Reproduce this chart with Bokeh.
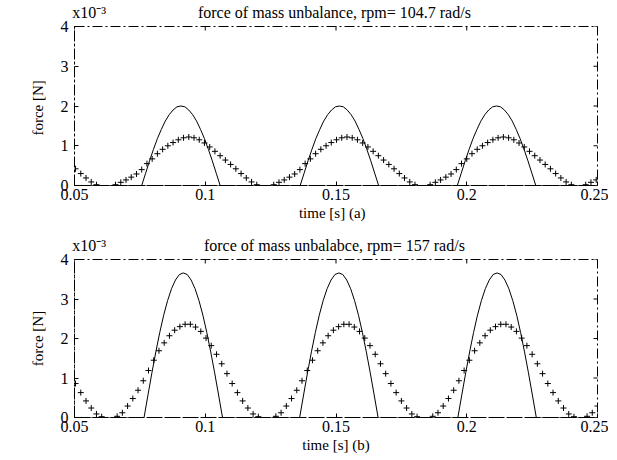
import math
from bokeh.plotting import figure
from bokeh.layouts import column
from bokeh.models import Range1d, FixedTicker, LinearAxis
from bokeh.embed import file_html
from bokeh.resources import INLINE

FONT = "Liberation Serif"

# ---- axis ticks / labels ----
x_ticks = [0.05, 0.1, 0.15, 0.2, 0.25]
x_tick_labels = ["0.05", "0.1", "0.15", "0.2", "0.25"]
y_ticks = [0, 1, 2, 3, 4]          # in units of 1e-3 N
y_tick_labels = ["0", "1", "2", "3", "4"]
y_scale_label = "x10\u207b\u00b3"

titles = ["force of mass unbalance, rpm= 104.7 rad/s",
          "force of mass unbalabce, rpm= 157 rad/s"]
x_labels = ["time  [s]  (a)", "time [s] (b)"]
y_labels = ["force  [N]", "force [N]"]

# ---- solid curve: one cap per pulse (offset from pulse centre, value x1e-3) ----
cap_offsets = [-0.015, -0.0135, -0.012, -0.0105, -0.009, -0.0075, -0.006, -0.0045,
               -0.003, -0.0015, 0.0, 0.0015, 0.003, 0.0045, 0.006, 0.0075, 0.009,
               0.0105, 0.012, 0.0135, 0.015]
cap_top = [0.0, 0.31, 0.62, 0.91, 1.18, 1.41, 1.62, 1.78, 1.90, 1.98, 2.0,
           1.98, 1.90, 1.78, 1.62, 1.41, 1.18, 0.91, 0.62, 0.31, 0.0]
cap_bottom = [0.0, 0.57, 1.13, 1.66, 2.15, 2.59, 2.96, 3.26, 3.48, 3.62, 3.66,
              3.62, 3.48, 3.26, 2.96, 2.59, 2.15, 1.66, 1.13, 0.57, 0.0]
cap_centres_top = [0.0907, 0.1513, 0.2114]
cap_centres_bottom = [0.0916, 0.1511, 0.2116]

# ---- '+' series: one pulse profile (value x1e-3 every 2 ms) and pulse starts ----
marker_step = 0.002
marker_top = [0.02, 0.08, 0.14, 0.21, 0.29, 0.40, 0.55, 0.67, 0.80, 0.91, 1.00, 1.08,
              1.15, 1.20, 1.22, 1.20, 1.15, 1.07, 0.97, 0.86, 0.75, 0.64, 0.53, 0.42,
              0.30, 0.19, 0.09, 0.02]
marker_bottom = [0.03, 0.12, 0.29, 0.48, 0.69, 0.93, 1.19, 1.45, 1.69, 1.89, 2.07, 2.21,
                 2.30, 2.36, 2.36, 2.29, 2.18, 2.01, 1.82, 1.60, 1.36, 1.11, 0.86, 0.63,
                 0.42, 0.24, 0.09, 0.02]
marker_starts_top = [0.0044, 0.0657, 0.1262, 0.1860, 0.2455]
marker_starts_bottom = [0.0064, 0.0663, 0.1270, 0.1870, 0.2460]

X0, X1 = 0.05, 0.25
Y0, Y1 = 0, 4
TITLE_X = 0.1494       # horizontal centre of the heading (data units)
SCALE_X = 0.0556       # horizontal centre of the "x10^-3" note


def solid_series(centres, cap):
    xs, ys = [X0], [0.0]
    for c in centres:
        for o, v in zip(cap_offsets, cap):
            xs.append(c + o)
            ys.append(v)
    xs.append(X1)
    ys.append(0.0)
    return xs, ys


def marker_series(starts, profile):
    xs, ys = [], []
    for s in starts:
        for k, v in enumerate(profile):
            t = s + k * marker_step
            if X0 - 0.0005 <= t <= X1 + 0.0005:
                xs.append(t)
                ys.append(v)
    return xs, ys


DASH = "10 3 2 3"


def make_fig(idx, height, b_top, b_bottom, centres, cap, starts, profile):
    p = figure(width=608, height=height, output_backend="svg", toolbar_location=None,
               x_range=Range1d(X0, X1), y_range=Range1d(Y0, Y1),
               min_border_left=74, min_border_right=11,
               min_border_top=b_top, min_border_bottom=b_bottom)
    p.background_fill_color = "white"
    p.border_fill_color = "white"
    p.xgrid.visible = False
    p.ygrid.visible = False
    p.outline_line_color = "black"
    p.outline_line_width = 1
    p.outline_line_dash = DASH

    for ax in (p.xaxis[0], p.yaxis[0]):
        ax.axis_line_color = "black"
        ax.axis_line_dash = DASH
        ax.major_tick_in = 4
        ax.major_tick_out = 0
        ax.minor_tick_line_color = None
        ax.major_label_text_font = FONT
        ax.major_label_text_font_size = "16px"
        ax.major_label_text_color = "black"
        ax.axis_label_text_font = FONT
        ax.axis_label_text_font_size = "15px"
        ax.axis_label_text_font_style = "normal"
        ax.axis_label_text_color = "black"

    p.xaxis[0].ticker = FixedTicker(ticks=x_ticks)
    p.xaxis[0].major_label_overrides = {t: l for t, l in zip(x_ticks, x_tick_labels)}
    p.xaxis[0].major_label_standoff = 3
    p.xaxis[0].axis_label = x_labels[idx]
    p.xaxis[0].axis_label_standoff = 2

    p.yaxis[0].ticker = FixedTicker(ticks=y_ticks)
    p.yaxis[0].major_label_overrides = {t: l for t, l in zip(y_ticks, y_tick_labels)}
    p.yaxis[0].major_label_standoff = 6
    p.yaxis[0].axis_label = y_labels[idx]
    p.yaxis[0].axis_label_standoff = 12

    # heading and the x10^-3 note, set as labels of an axis above the frame
    top = LinearAxis(ticker=FixedTicker(ticks=[SCALE_X, TITLE_X]),
                     major_label_overrides={SCALE_X: y_scale_label, TITLE_X: titles[idx]},
                     major_tick_line_color=None, minor_tick_line_color=None,
                     axis_line_color=None, major_label_standoff=0,
                     major_label_text_font=FONT, major_label_text_font_size="16px",
                     major_label_text_color="black")
    p.add_layout(top, "above")

    # inner tick marks on the right and top edges (half of each dash is clipped by the frame)
    p.scatter([X1] * len(y_ticks), y_ticks, marker="dash", size=8, line_color="black",
              line_width=1)
    p.scatter(x_ticks, [Y1] * len(x_ticks), marker="dash", size=8, angle=math.pi / 2,
              line_color="black", line_width=1)

    sx, sy = solid_series(centres, cap)
    p.line(sx, sy, line_color="black", line_width=1)
    mx, my = marker_series(starts, profile)
    p.scatter(mx, my, marker="cross", size=6, line_color="black", line_width=1)
    return p


p1 = make_fig(0, 233, 24, 48, cap_centres_top, cap_top, marker_starts_top, marker_top)
p2 = make_fig(1, 224, 25, 40, cap_centres_bottom, cap_bottom, marker_starts_bottom, marker_bottom)

layout = column(p1, p2, spacing=0)
open("out.html", "w").write(file_html(layout, INLINE))
